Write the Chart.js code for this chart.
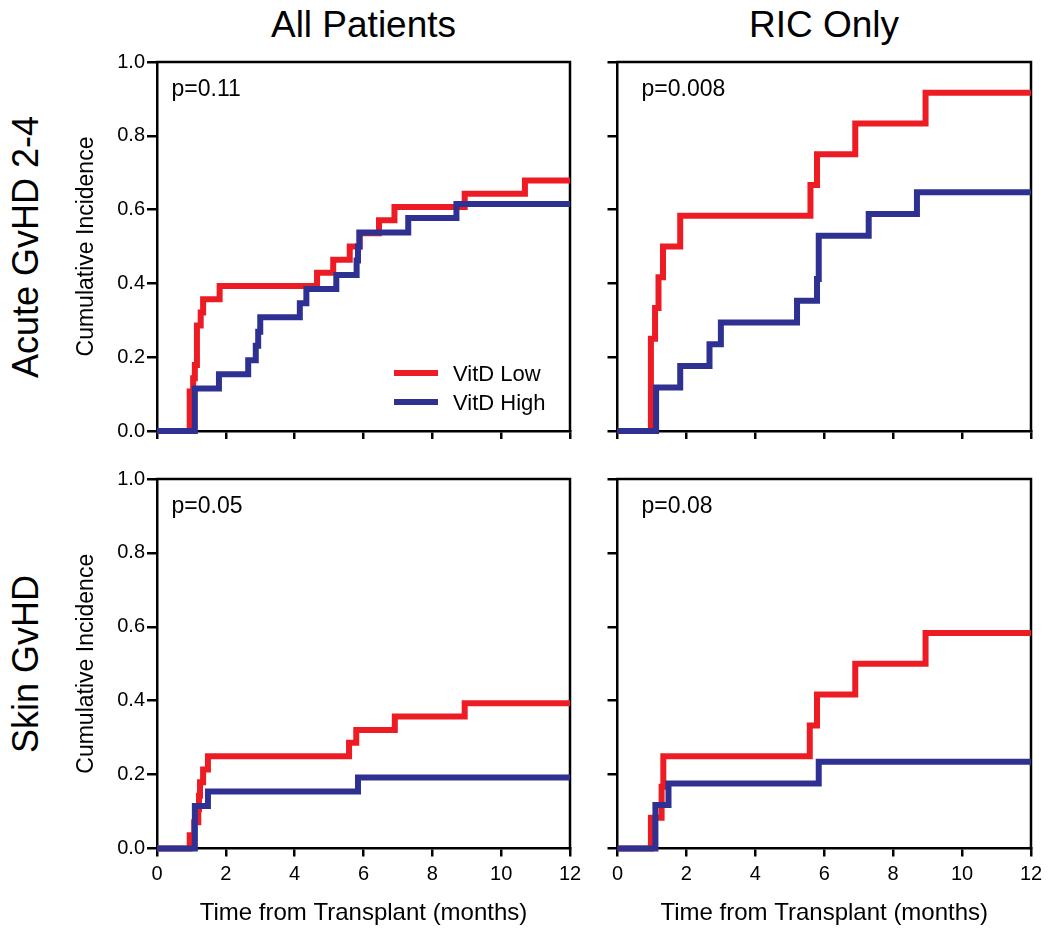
<!DOCTYPE html>
<html>
<head>
<meta charset="utf-8">
<title>Cumulative incidence of GvHD by vitamin D level</title>
<script src="https://cdn.jsdelivr.net/npm/chart.js@4.4.1/dist/chart.umd.min.js"></script>
<style>
    body { margin: 0; background: #fff; }
    #fig { position: relative; width: 1050px; height: 934px; overflow: hidden; font-family: 'Liberation Sans', Arial, sans-serif; color: #000; }
    #fig canvas { position: absolute; }
    .col-title { position: absolute; top: 6px; width: 400px; text-align: center; font-size: 37px; line-height: 37px; }
    .row-title { position: absolute; width: 400px; height: 36px; text-align: center; font-size: 36px; line-height: 36px; transform: rotate(-90deg); white-space: nowrap; }
</style>
</head>
<body>
<div id="fig">
    <div class="col-title" id="ct0" style="left:163.5px"></div>
    <div class="col-title" id="ct1" style="left:624px"></div>
    <div class="row-title" id="rt0" style="left:-174.5px;top:228.5px"></div>
    <div class="row-title" id="rt1" style="left:-174.5px;top:646px"></div>
    <canvas id="c0" width="545" height="420" style="left:50px;top:40px"></canvas>
    <canvas id="c1" width="455" height="420" style="left:595px;top:40px"></canvas>
    <canvas id="c2" width="545" height="474" style="left:50px;top:460px"></canvas>
    <canvas id="c3" width="455" height="474" style="left:595px;top:460px"></canvas>
</div>
<script>
const columnTitles = ['All Patients', 'RIC Only'];
const rowTitles = ['Acute GvHD 2-4', 'Skin GvHD'];
const seriesNames = ['VitD Low', 'VitD High'];
const pValues = ['p=0.11', 'p=0.008', 'p=0.05', 'p=0.08'];
const xTickValues = [0, 2, 4, 6, 8, 10, 12];
const yTickValues = [0, 0.2, 0.4, 0.6, 0.8, 1.0];

// All patients, acute GvHD 2-4
const allAcuteLowT = [0, 0.95, 1.05, 1.10, 1.16, 1.27, 1.34, 1.82, 4.65, 5.12, 5.60, 5.89, 6.45, 6.90, 8.94, 10.69, 12];
const allAcuteLowY = [0, 0.107, 0.143, 0.179, 0.286, 0.321, 0.357, 0.393, 0.429, 0.464, 0.500, 0.536, 0.571, 0.607, 0.643, 0.679, 0.679];
const allAcuteHighT = [0, 1.10, 1.80, 2.65, 2.87, 2.94, 3.00, 4.15, 4.34, 5.21, 5.80, 5.84, 5.88, 7.30, 8.70, 12];
const allAcuteHighY = [0, 0.115, 0.154, 0.192, 0.231, 0.269, 0.308, 0.346, 0.385, 0.423, 0.462, 0.500, 0.538, 0.577, 0.615, 0.615];

// RIC only, acute GvHD 2-4
const ricAcuteLowT = [0, 0.97, 1.09, 1.19, 1.32, 1.82, 5.60, 5.79, 6.90, 8.94, 12];
const ricAcuteLowY = [0, 0.250, 0.333, 0.417, 0.500, 0.583, 0.667, 0.750, 0.833, 0.917, 0.917];
const ricAcuteHighT = [0, 1.12, 1.82, 2.67, 3.00, 5.21, 5.79, 5.84, 7.29, 8.69, 12];
const ricAcuteHighY = [0, 0.118, 0.176, 0.235, 0.294, 0.353, 0.412, 0.529, 0.588, 0.647, 0.647];

// All patients, skin GvHD
const allSkinLowT = [0, 0.95, 1.08, 1.20, 1.22, 1.25, 1.34, 1.48, 5.58, 5.79, 6.91, 8.94, 12];
const allSkinLowY = [0, 0.036, 0.071, 0.107, 0.143, 0.179, 0.214, 0.250, 0.286, 0.321, 0.357, 0.393, 0.393];
const allSkinHighT = [0, 1.10, 1.48, 5.84, 12];
const allSkinHighY = [0, 0.115, 0.154, 0.192, 0.192];

// RIC only, skin GvHD
const ricSkinLowT = [0, 0.97, 1.28, 1.33, 5.58, 5.79, 6.90, 8.94, 12];
const ricSkinLowY = [0, 0.083, 0.167, 0.250, 0.333, 0.417, 0.500, 0.583, 0.583];
const ricSkinHighT = [0, 1.10, 1.48, 5.84, 12];
const ricSkinHighY = [0, 0.118, 0.176, 0.235, 0.235];

const RED = '#ED1C24';
const BLUE = '#2E3192';

Chart.defaults.font.family = "'Liberation Sans', Arial, sans-serif";
Chart.defaults.color = '#000';

const toPoints = (t, y) => t.map((v, i) => ({ x: v, y: y[i] }));

// frame on the top/right, p-value and the legend inside the plot
const panelText = {
    id: 'panelText',
    beforeDatasetsDraw(chart) {
        const { ctx, chartArea: a } = chart;
        ctx.save();
        ctx.strokeStyle = '#000';
        ctx.lineWidth = 2.5;
        ctx.lineCap = 'square';
        ctx.beginPath();
        ctx.moveTo(a.left, a.top);
        ctx.lineTo(a.right, a.top);
        ctx.lineTo(a.right, a.bottom);
        ctx.stroke();
        ctx.restore();
    },
    afterDatasetsDraw(chart, args, opts) {
        const { ctx, chartArea: a } = chart;
        ctx.save();
        ctx.fillStyle = '#000';
        ctx.textBaseline = 'alphabetic';
        ctx.textAlign = 'left';
        ctx.font = "23px 'Liberation Sans', Arial, sans-serif";
        ctx.fillText(opts.p, a.left + opts.pOffset, a.top + 34);
        if (opts.legend) {
            ctx.font = "22px 'Liberation Sans', Arial, sans-serif";
            chart.data.datasets.forEach((ds, i) => {
                const y = a.bottom - 58 + i * 29;
                ctx.strokeStyle = ds.borderColor;
                ctx.lineWidth = 6;
                ctx.beginPath();
                ctx.moveTo(a.right - 176, y);
                ctx.lineTo(a.right - 132, y);
                ctx.stroke();
                ctx.fillText(ds.label, a.right - 117, y + 8);
            });
        }
        ctx.restore();
    }
};

const colLayout = [
    { yWidth: 107, padRight: 25, labels: true, pOffset: 14.5 },
    { yWidth: 22.5, padRight: 19, labels: false, pOffset: 24 },
];
const rowLayout = [
    { padTop: 22, xHeight: 29, labels: false },
    { padTop: 19, xHeight: 85.5, labels: true },
];

const panels = [
    { id: 'c0', row: 0, col: 0, low: toPoints(allAcuteLowT, allAcuteLowY), high: toPoints(allAcuteHighT, allAcuteHighY), p: pValues[0], legend: true },
    { id: 'c1', row: 0, col: 1, low: toPoints(ricAcuteLowT, ricAcuteLowY), high: toPoints(ricAcuteHighT, ricAcuteHighY), p: pValues[1], legend: false },
    { id: 'c2', row: 1, col: 0, low: toPoints(allSkinLowT, allSkinLowY), high: toPoints(allSkinHighT, allSkinHighY), p: pValues[2], legend: false },
    { id: 'c3', row: 1, col: 1, low: toPoints(ricSkinLowT, ricSkinLowY), high: toPoints(ricSkinHighT, ricSkinHighY), p: pValues[3], legend: false },
];

function lineSet(label, data, color, order) {
    return {
        label,
        data,
        borderColor: color,
        backgroundColor: color,
        borderWidth: 6,
        stepped: 'before',
        pointRadius: 0,
        fill: false,
        clip: false,
        borderJoinStyle: 'miter',
        borderCapStyle: 'butt',
        order,
    };
}

function renderPanel(p) {
    const col = colLayout[p.col];
    const row = rowLayout[p.row];
    new Chart(document.getElementById(p.id), {
        type: 'line',
        data: {
            datasets: [
                lineSet(seriesNames[0], p.low, RED, 1),
                lineSet(seriesNames[1], p.high, BLUE, 0),
            ]
        },
        options: {
            responsive: false,
            animation: false,
            devicePixelRatio: 1,
            events: [],
            layout: { padding: { top: row.padTop, right: col.padRight, left: 0, bottom: 0 } },
            plugins: {
                legend: { display: false },
                tooltip: { enabled: false },
                panelText: { p: p.p, pOffset: col.pOffset, legend: p.legend },
            },
            scales: {
                x: {
                    type: 'linear',
                    min: 0,
                    max: 12,
                    afterBuildTicks: s => { s.ticks = xTickValues.map(v => ({ value: v })); },
                    afterFit: s => { s.height = row.xHeight; },
                    grid: { drawOnChartArea: false, drawTicks: true, tickLength: 8, color: '#000', lineWidth: 2.5 },
                    border: { display: true, color: '#000', width: 2.5 },
                    ticks: { display: row.labels, font: { size: 20 }, padding: 6, maxRotation: 0, color: '#000' },
                    title: {
                        display: row.labels,
                        text: 'Time from Transplant (months)',
                        font: { size: 24 },
                        color: '#000',
                        padding: { top: 0, bottom: 6 },
                    },
                },
                y: {
                    type: 'linear',
                    min: 0,
                    max: 1,
                    afterBuildTicks: s => { s.ticks = yTickValues.map(v => ({ value: v })); },
                    afterFit: s => { s.width = col.yWidth; },
                    grid: { drawOnChartArea: false, drawTicks: true, tickLength: 10, color: '#000', lineWidth: 2.5 },
                    border: { display: true, color: '#000', width: 2.5 },
                    ticks: { display: col.labels, font: { size: 20 }, padding: 2, color: '#000', callback: v => v.toFixed(1) },
                    title: {
                        display: col.labels,
                        text: 'Cumulative Incidence',
                        font: { size: 23 },
                        color: '#000',
                        padding: { top: 23, bottom: 0 },
                    },
                },
            },
        },
        plugins: [panelText],
    });
}

columnTitles.forEach((t, i) => { document.getElementById('ct' + i).textContent = t; });
rowTitles.forEach((t, i) => { document.getElementById('rt' + i).textContent = t; });
panels.forEach(renderPanel);
</script>
</body>
</html>
